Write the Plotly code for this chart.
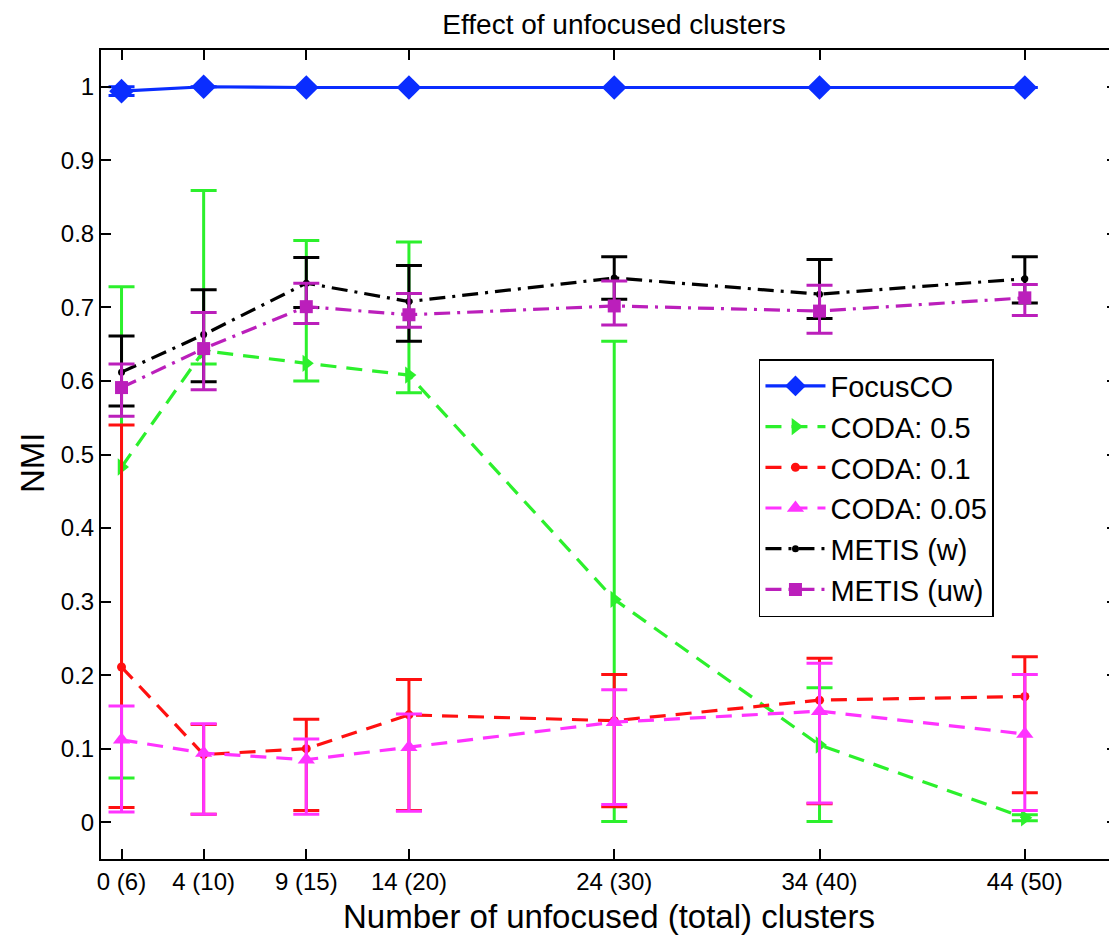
import plotly.graph_objects as go

x_vals = [6, 10, 15, 20, 30, 40, 50]
x_labels = ["0 (6)", "4 (10)", "9 (15)", "14 (20)", "24 (30)", "34 (40)", "44 (50)"]

focusco = [0.994, 1.0, 0.999, 0.999, 0.999, 0.999, 0.999]
focusco_hi = [1.0, 1.0, 0.999, 0.999, 0.999, 0.999, 0.999]
focusco_lo = [0.988, 1.0, 0.999, 0.999, 0.999, 0.999, 0.999]

coda05 = [0.483, 0.641, 0.624, 0.608, 0.303, 0.105, 0.006]
coda05_hi = [0.728, 0.859, 0.791, 0.789, 0.654, 0.183, 0.010]
coda05_lo = [0.060, 0.623, 0.600, 0.584, 0.001, 0.001, 0.002]

coda01 = [0.211, 0.092, 0.100, 0.146, 0.138, 0.166, 0.171]
coda01_hi = [0.540, 0.133, 0.140, 0.194, 0.201, 0.223, 0.225]
coda01_lo = [0.020, 0.011, 0.016, 0.016, 0.021, 0.025, 0.040]

coda005 = [0.112, 0.094, 0.085, 0.102, 0.136, 0.151, 0.120]
coda005_hi = [0.158, 0.134, 0.113, 0.147, 0.180, 0.216, 0.201]
coda005_lo = [0.014, 0.011, 0.011, 0.015, 0.024, 0.026, 0.016]

metis_w = [0.612, 0.663, 0.733, 0.708, 0.740, 0.718, 0.739]
metis_w_hi = [0.661, 0.724, 0.768, 0.757, 0.769, 0.765, 0.769]
metis_w_lo = [0.566, 0.599, 0.700, 0.654, 0.711, 0.685, 0.706]

metis_uw = [0.591, 0.644, 0.701, 0.690, 0.702, 0.695, 0.713]
metis_uw_hi = [0.623, 0.693, 0.733, 0.719, 0.736, 0.730, 0.731]
metis_uw_lo = [0.552, 0.588, 0.678, 0.673, 0.676, 0.665, 0.689]

y_ticks = [0, 0.1, 0.2, 0.3, 0.4, 0.5, 0.6, 0.7, 0.8, 0.9, 1]
y_labels = ["0", "0.1", "0.2", "0.3", "0.4", "0.5", "0.6", "0.7", "0.8", "0.9", "1"]

FONT = "Liberation Sans, Arial, Helvetica, sans-serif"

series = [
    ("FocusCO", focusco, focusco_hi, focusco_lo, "#0a2dff", "solid", "diamond", 19),
    ("CODA: 0.5", coda05, coda05_hi, coda05_lo, "#2cf02c", "16px,10px", "triangle-right", 15),
    ("CODA: 0.1", coda01, coda01_hi, coda01_lo, "#ff1010", "16px,10px", "circle", 9),
    ("CODA: 0.05", coda005, coda005_hi, coda005_lo, "#ff33ff", "16px,10px", "triangle-up", 15),
    ("METIS (w)", metis_w, metis_w_hi, metis_w_lo, "#000000", "16px,7px,3px,7px", "circle", 7),
    ("METIS (uw)", metis_uw, metis_uw_hi, metis_uw_lo, "#bb1fbb", "16px,7px,3px,7px", "square", 13),
]

fig = go.Figure()
for name, y, hi, lo, color, dash, sym, size in series:
    plus = [h - v for h, v in zip(hi, y)]
    minus = [v - l for v, l in zip(y, lo)]
    fig.add_trace(go.Scatter(
        x=x_vals, y=y, name=name, mode="lines+markers",
        line=dict(color=color, width=3.2, dash=dash),
        marker=dict(symbol=sym, size=size, color=color),
        error_y=dict(type="data", symmetric=False, array=plus, arrayminus=minus,
                     color=color, thickness=3, width=13),
    ))

fig.update_layout(
    width=1109, height=934,
    margin=dict(l=93, r=0, t=42, b=83),
    plot_bgcolor="white", paper_bgcolor="white",
    font=dict(family=FONT, color="black", size=25),
    title=dict(text="Effect of unfocused clusters", x=0.5465, xanchor="center",
               y=0.983, yanchor="middle", font=dict(size=28, family=FONT)),
    showlegend=True,
    legend=dict(x=0.6476, y=0.618, xanchor="left", yanchor="top",
                bordercolor="black", borderwidth=1.5, bgcolor="white",
                font=dict(size=29, family=FONT), tracegroupgap=0, itemwidth=60),
    annotations=[
        dict(text="Number of unfocused (total) clusters", xref="paper", yref="paper",
             x=0.5, y=-0.0705, xanchor="center", yanchor="middle", showarrow=False,
             font=dict(size=33, family=FONT, color="black")),
        dict(text="NMI", xref="paper", yref="paper", textangle=-90,
             x=-0.0669, y=0.4895, xanchor="center", yanchor="middle", showarrow=False,
             font=dict(size=33, family=FONT, color="black")),
    ],
)
fig.update_xaxes(
    range=[5, 54.49], tickmode="array", tickvals=x_vals, ticktext=x_labels,
    ticks="inside", ticklen=10, tickwidth=1.5, tickcolor="black",
    showline=True, linecolor="black", linewidth=2, mirror="ticks",
    showgrid=False, zeroline=False, automargin=False,
    tickfont=dict(size=24, family=FONT),
)
fig.update_yaxes(
    range=[-0.05, 1.05], tickmode="array", tickvals=y_ticks, ticktext=y_labels,
    ticks="inside", ticklen=10, tickwidth=1.5, tickcolor="black",
    showline=True, linecolor="black", linewidth=2, mirror="ticks",
    showgrid=False, zeroline=False, automargin=False,
    tickfont=dict(size=24, family=FONT),
)

fig.write_html("out.html")
